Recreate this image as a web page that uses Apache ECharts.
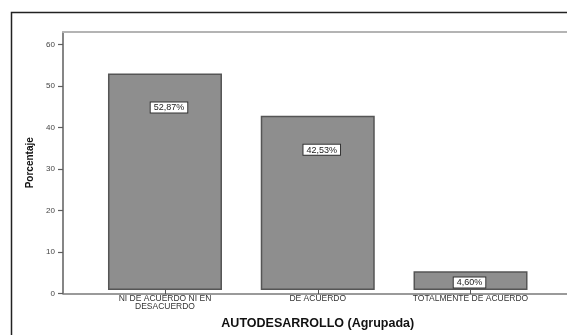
<!DOCTYPE html>
<html>
<head>
<meta charset="utf-8">
<script src="https://cdn.jsdelivr.net/npm/echarts@6/dist/echarts.min.js"></script>
<style>
  html, body { margin: 0; padding: 0; background: #fff; }
  #chart { width: 567px; height: 335px; }
</style>
</head>
<body>
<div id="chart"></div>
<script>
// Survey result: AUTODESARROLLO grouped answers, percentage per group
const categories = ['NI DE ACUERDO NI EN\nDESACUERDO', 'DE ACUERDO', 'TOTALMENTE DE ACUERDO'];
const percentages = [52.87, 42.53, 4.60];
const yTicks = [0, 10, 20, 30, 40, 50, 60];
const yMax = 63;

const FONT = '"Liberation Sans", Arial, sans-serif';
const fmtPct = v => v.toFixed(2).replace('.', ',') + '%';

const chart = echarts.init(document.getElementById('chart'), null, { renderer: 'canvas' });

chart.setOption({
  animation: false,
  backgroundColor: '#ffffff',
  textStyle: { fontFamily: FONT },
  // outer frame of the figure
  graphic: [{
    type: 'rect',
    left: 9, top: 10,
    shape: { width: 700, height: 500 },
    style: { fill: 'none', stroke: '#222', lineWidth: 1.5 },
    silent: true
  }],
  grid: [
    // plot frame with the percentage scale
    { left: 63, right: -30, top: 32, bottom: 41.5 },
    // area holding the three bars
    { left: 88.6, width: 458.3, top: 32, bottom: 41.5 }
  ],
  xAxis: [
    {
      gridIndex: 0, type: 'value', min: 0, max: 1, position: 'bottom',
      axisLine: { show: true, lineStyle: { color: '#7a7a7a', width: 1.5 } },
      axisTick: { show: false }, axisLabel: { show: false }, splitLine: { show: false }
    },
    {
      gridIndex: 0, type: 'value', min: 0, max: 1, position: 'top',
      axisLine: { show: true, lineStyle: { color: '#b4b4b4', width: 2 } },
      axisTick: { show: false }, axisLabel: { show: false }, splitLine: { show: false }
    },
    {
      gridIndex: 1, type: 'category', data: categories,
      axisLine: { show: false },
      axisTick: { show: true, alignWithLabel: true, length: 4, lineStyle: { color: '#555', width: 1 } },
      axisLabel: {
        interval: 0, margin: 5, fontSize: 8.5, lineHeight: 7.5,
        color: '#333', fontFamily: FONT, align: 'center'
      },
      name: 'AUTODESARROLLO (Agrupada)',
      nameLocation: 'middle', nameGap: 27,
      nameTextStyle: { fontSize: 12.5, fontWeight: 'bold', color: '#111', fontFamily: FONT }
    }
  ],
  yAxis: [
    {
      gridIndex: 0, type: 'value', min: 0, max: yMax, interval: 10,
      axisLine: { show: true, lineStyle: { color: '#5e5e5e', width: 1.5 } },
      axisTick: { show: true, length: 5, customValues: yTicks, lineStyle: { color: '#5e5e5e', width: 1.2 } },
      axisLabel: { customValues: yTicks, fontSize: 8, color: '#444', margin: 8, fontFamily: FONT },
      splitLine: { show: false },
      name: 'Porcentaje', nameLocation: 'middle', nameGap: 28, nameRotate: 90,
      nameTextStyle: { fontSize: 10, fontWeight: 'bold', color: '#111', fontFamily: FONT }
    },
    {
      gridIndex: 1, type: 'value', min: 0, max: yMax, interval: 10, show: false
    }
  ],
  series: [{
    type: 'bar',
    xAxisIndex: 2,
    yAxisIndex: 1,
    barWidth: 114,
    data: percentages.map(v => ({
      value: v,
      label: v < 10
        ? { position: 'inside', offset: [-1, 2] }
        : { position: 'insideTop', distance: 29, offset: [4, 0] }
    })),
    itemStyle: { color: '#8e8e8e', borderColor: '#555555', borderWidth: 1.5 },
    label: {
      show: true,
      formatter: p => fmtPct(p.value),
      fontSize: 9, color: '#222', fontFamily: FONT,
      backgroundColor: '#ffffff', borderColor: '#333', borderWidth: 1,
      padding: [1, 3, 0, 3]
    }
  }]
});
</script>
</body>
</html>
